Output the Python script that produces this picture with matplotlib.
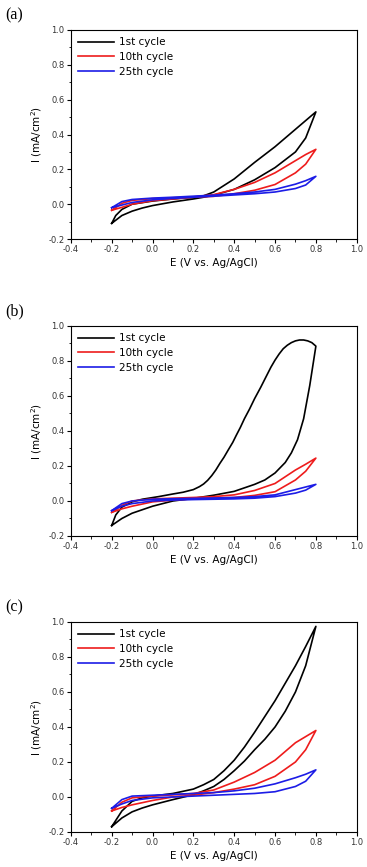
import matplotlib
matplotlib.use("Agg")
import matplotlib.pyplot as plt
from matplotlib.ticker import MultipleLocator, FormatStrFormatter

plt.rcParams["axes.unicode_minus"] = False

# --- data (forward branch -0.2 -> 0.8, then back branch 0.8 -> -0.2)
# panel (a)
a1_e_fwd = [-0.2, -0.15, -0.1, -0.05, 0.0, 0.1, 0.2, 0.25, 0.3, 0.4, 0.5, 0.6, 0.7, 0.75, 0.8]
a1_i_fwd = [-0.11, -0.065, -0.04, -0.022, -0.008, 0.013, 0.03, 0.04, 0.052, 0.085, 0.14, 0.21, 0.3, 0.38, 0.53]
a1_e_rev = [0.8, 0.75, 0.7, 0.6, 0.5, 0.4, 0.3, 0.25, 0.2, 0.1, 0.0, -0.1, -0.15, -0.18, -0.2]
a1_i_rev = [0.53, 0.48, 0.43, 0.33, 0.24, 0.145, 0.07, 0.048, 0.04, 0.03, 0.018, 0.0, -0.03, -0.065, -0.11]

a10_e_fwd = [-0.2, -0.15, -0.1, 0.0, 0.1, 0.2, 0.3, 0.4, 0.5, 0.6, 0.7, 0.75, 0.8]
a10_i_fwd = [-0.035, -0.018, 0.0, 0.02, 0.03, 0.04, 0.045, 0.06, 0.08, 0.113, 0.18, 0.23, 0.315]
a10_e_rev = [0.8, 0.75, 0.7, 0.6, 0.5, 0.4, 0.3, 0.2, 0.1, 0.0, -0.1, -0.15, -0.2]
a10_i_rev = [0.315, 0.285, 0.25, 0.18, 0.125, 0.085, 0.055, 0.042, 0.037, 0.032, 0.022, 0.005, -0.035]

a25_e_fwd = [-0.2, -0.15, -0.1, 0.0, 0.1, 0.2, 0.3, 0.4, 0.5, 0.6, 0.7, 0.75, 0.8]
a25_i_fwd = [-0.02, -0.005, 0.01, 0.025, 0.033, 0.04, 0.046, 0.053, 0.06, 0.07, 0.09, 0.11, 0.16]
a25_e_rev = [0.8, 0.75, 0.7, 0.6, 0.5, 0.4, 0.3, 0.2, 0.1, 0.0, -0.1, -0.15, -0.2]
a25_i_rev = [0.16, 0.135, 0.115, 0.085, 0.07, 0.06, 0.052, 0.046, 0.04, 0.035, 0.027, 0.015, -0.02]

# panel (b)
b1_e_fwd = [-0.2, -0.15, -0.1, 0.0, 0.1, 0.2, 0.3, 0.4, 0.5, 0.55, 0.6, 0.65, 0.68, 0.71, 0.74, 0.77, 0.8]
b1_i_fwd = [-0.14, -0.1, -0.07, -0.03, 0.0, 0.015, 0.033, 0.055, 0.095, 0.12, 0.16, 0.22, 0.275, 0.35, 0.47, 0.66, 0.885]
b1_e_rev = [0.8, 0.78, 0.76, 0.74, 0.72, 0.7, 0.68, 0.66, 0.64, 0.62, 0.6, 0.58, 0.556, 0.53, 0.5, 0.475,
            0.45, 0.43, 0.41, 0.393, 0.37, 0.35, 0.33, 0.31, 0.29, 0.27, 0.25, 0.23, 0.2,
            0.15, 0.1, 0.03, -0.05, -0.1, -0.15, -0.18, -0.2]
b1_i_rev = [0.885, 0.905, 0.915, 0.92, 0.92, 0.915, 0.905, 0.89, 0.87, 0.84, 0.805, 0.765, 0.71, 0.65, 0.585, 0.525,
            0.47, 0.42, 0.375, 0.335, 0.29, 0.25, 0.215, 0.177, 0.145, 0.118, 0.097, 0.082, 0.065,
            0.05, 0.04, 0.025, 0.01, -0.005, -0.035, -0.08, -0.14]

b10_e_fwd = [-0.2, -0.15, -0.1, 0.0, 0.1, 0.2, 0.3, 0.4, 0.5, 0.6, 0.7, 0.75, 0.8]
b10_i_fwd = [-0.065, -0.045, -0.03, -0.005, 0.005, 0.012, 0.016, 0.02, 0.032, 0.053, 0.12, 0.17, 0.245]
b10_e_rev = [0.8, 0.75, 0.7, 0.6, 0.5, 0.4, 0.3, 0.2, 0.1, 0.0, -0.1, -0.15, -0.2]
b10_i_rev = [0.245, 0.21, 0.177, 0.1, 0.06, 0.035, 0.025, 0.02, 0.016, 0.012, 0.0, -0.025, -0.065]

b25_e_fwd = [-0.2, -0.15, -0.1, 0.0, 0.1, 0.2, 0.3, 0.4, 0.5, 0.6, 0.7, 0.75, 0.8]
b25_i_fwd = [-0.055, -0.03, -0.015, 0.0, 0.005, 0.008, 0.01, 0.012, 0.016, 0.025, 0.045, 0.062, 0.095]
b25_e_rev = [0.8, 0.75, 0.7, 0.6, 0.5, 0.4, 0.3, 0.2, 0.1, 0.0, -0.1, -0.15, -0.2]
b25_i_rev = [0.095, 0.08, 0.065, 0.035, 0.025, 0.02, 0.017, 0.015, 0.013, 0.01, 0.0, -0.015, -0.055]

# panel (c)
c1_e_fwd = [-0.2, -0.15, -0.1, -0.05, 0.0, 0.1, 0.2, 0.25, 0.3, 0.35, 0.4, 0.45, 0.5, 0.55, 0.6, 0.65, 0.7, 0.75, 0.8]
c1_i_fwd = [-0.17, -0.12, -0.085, -0.063, -0.045, -0.015, 0.013, 0.035, 0.06, 0.1, 0.15, 0.205, 0.27, 0.33, 0.4, 0.49, 0.6, 0.75, 0.975]
c1_e_rev = [0.8, 0.75, 0.7, 0.65, 0.6, 0.55, 0.5, 0.45, 0.4, 0.35, 0.3, 0.25, 0.2, 0.1, 0.0, -0.05, -0.1, -0.15, -0.2]
c1_i_rev = [0.975, 0.86, 0.75, 0.65, 0.55, 0.46, 0.37, 0.285, 0.21, 0.15, 0.1, 0.07, 0.045, 0.02, 0.005, -0.005, -0.025, -0.08, -0.17]

c10_e_fwd = [-0.2, -0.15, -0.1, 0.0, 0.1, 0.2, 0.3, 0.4, 0.5, 0.6, 0.7, 0.75, 0.8]
c10_i_fwd = [-0.08, -0.06, -0.045, -0.02, 0.0, 0.01, 0.025, 0.045, 0.07, 0.118, 0.2, 0.27, 0.38]
c10_e_rev = [0.8, 0.75, 0.7, 0.6, 0.5, 0.4, 0.3, 0.2, 0.1, 0.0, -0.1, -0.15, -0.2]
c10_i_rev = [0.38, 0.345, 0.31, 0.21, 0.14, 0.085, 0.04, 0.02, 0.012, 0.005, -0.005, -0.03, -0.08]

c25_e_fwd = [-0.2, -0.15, -0.1, 0.0, 0.1, 0.2, 0.3, 0.4, 0.5, 0.6, 0.7, 0.75, 0.8]
c25_i_fwd = [-0.065, -0.04, -0.02, -0.005, 0.0, 0.005, 0.01, 0.015, 0.02, 0.03, 0.06, 0.09, 0.155]
c25_e_rev = [0.8, 0.75, 0.7, 0.6, 0.5, 0.4, 0.3, 0.2, 0.1, 0.0, -0.1, -0.15, -0.2]
c25_i_rev = [0.155, 0.13, 0.11, 0.075, 0.05, 0.035, 0.025, 0.02, 0.015, 0.01, 0.005, -0.015, -0.065]

labels = ["1st cycle", "10th cycle", "25th cycle"]
colors = ["black", "#ee1c1c", "#1c1ce6"]
panel_tags = ["(a)", "(b)", "(c)"]

panels = [
    [(a1_e_fwd, a1_i_fwd, a1_e_rev, a1_i_rev),
     (a10_e_fwd, a10_i_fwd, a10_e_rev, a10_i_rev),
     (a25_e_fwd, a25_i_fwd, a25_e_rev, a25_i_rev)],
    [(b1_e_fwd, b1_i_fwd, b1_e_rev, b1_i_rev),
     (b10_e_fwd, b10_i_fwd, b10_e_rev, b10_i_rev),
     (b25_e_fwd, b25_i_fwd, b25_e_rev, b25_i_rev)],
    [(c1_e_fwd, c1_i_fwd, c1_e_rev, c1_i_rev),
     (c10_e_fwd, c10_i_fwd, c10_e_rev, c10_i_rev),
     (c25_e_fwd, c25_i_fwd, c25_e_rev, c25_i_rev)],
]

fig = plt.figure(figsize=(3.67, 8.67), dpi=100)

# axes boxes in figure fractions (left, bottom, width, height)
boxes = [(0.193, 0.7243, 0.779, 0.2411),
         (0.193, 0.3818, 0.779, 0.2422),
         (0.193, 0.0404, 0.779, 0.2422)]

for k in range(3):
    ax = fig.add_axes(boxes[k])
    for j in range(3):
        ef, jf, er, jr = panels[k][j]
        ax.plot(ef + er, jf + jr, color=colors[j], lw=1.2, label=labels[j])
    ax.set_xlim(-0.4, 1.0)
    ax.set_ylim(-0.2, 1.0)
    ax.xaxis.set_major_locator(MultipleLocator(0.2))
    ax.xaxis.set_minor_locator(MultipleLocator(0.1))
    ax.yaxis.set_major_locator(MultipleLocator(0.2))
    ax.yaxis.set_minor_locator(MultipleLocator(0.1))
    ax.tick_params(which="major", direction="out", length=3, width=0.8,
                   labelsize=6, labelcolor="#333333", pad=1.5)
    ax.tick_params(which="minor", direction="out", length=1.8, width=0.6)
    ax.xaxis.set_major_formatter(FormatStrFormatter("%.1f"))
    ax.yaxis.set_major_formatter(FormatStrFormatter("%.1f"))
    for s in ax.spines.values():
        s.set_linewidth(0.8)
    ax.set_xlabel("E (V vs. Ag/AgCl)", fontsize=7.5, labelpad=3)
    ax.set_ylabel("I (mA/cm$^2$)", fontsize=7.5, labelpad=3)
    ax.legend(loc="upper left", frameon=False, fontsize=7.5, handlelength=3.4,
              handletextpad=0.5, labelspacing=0.45, borderaxespad=0.3)
    fig.text(0.015, boxes[k][1] + boxes[k][3] + 0.008, panel_tags[k],
             fontsize=11.5, family="Liberation Serif", va="bottom", ha="left")

fig.savefig("out.png", dpi=100)
